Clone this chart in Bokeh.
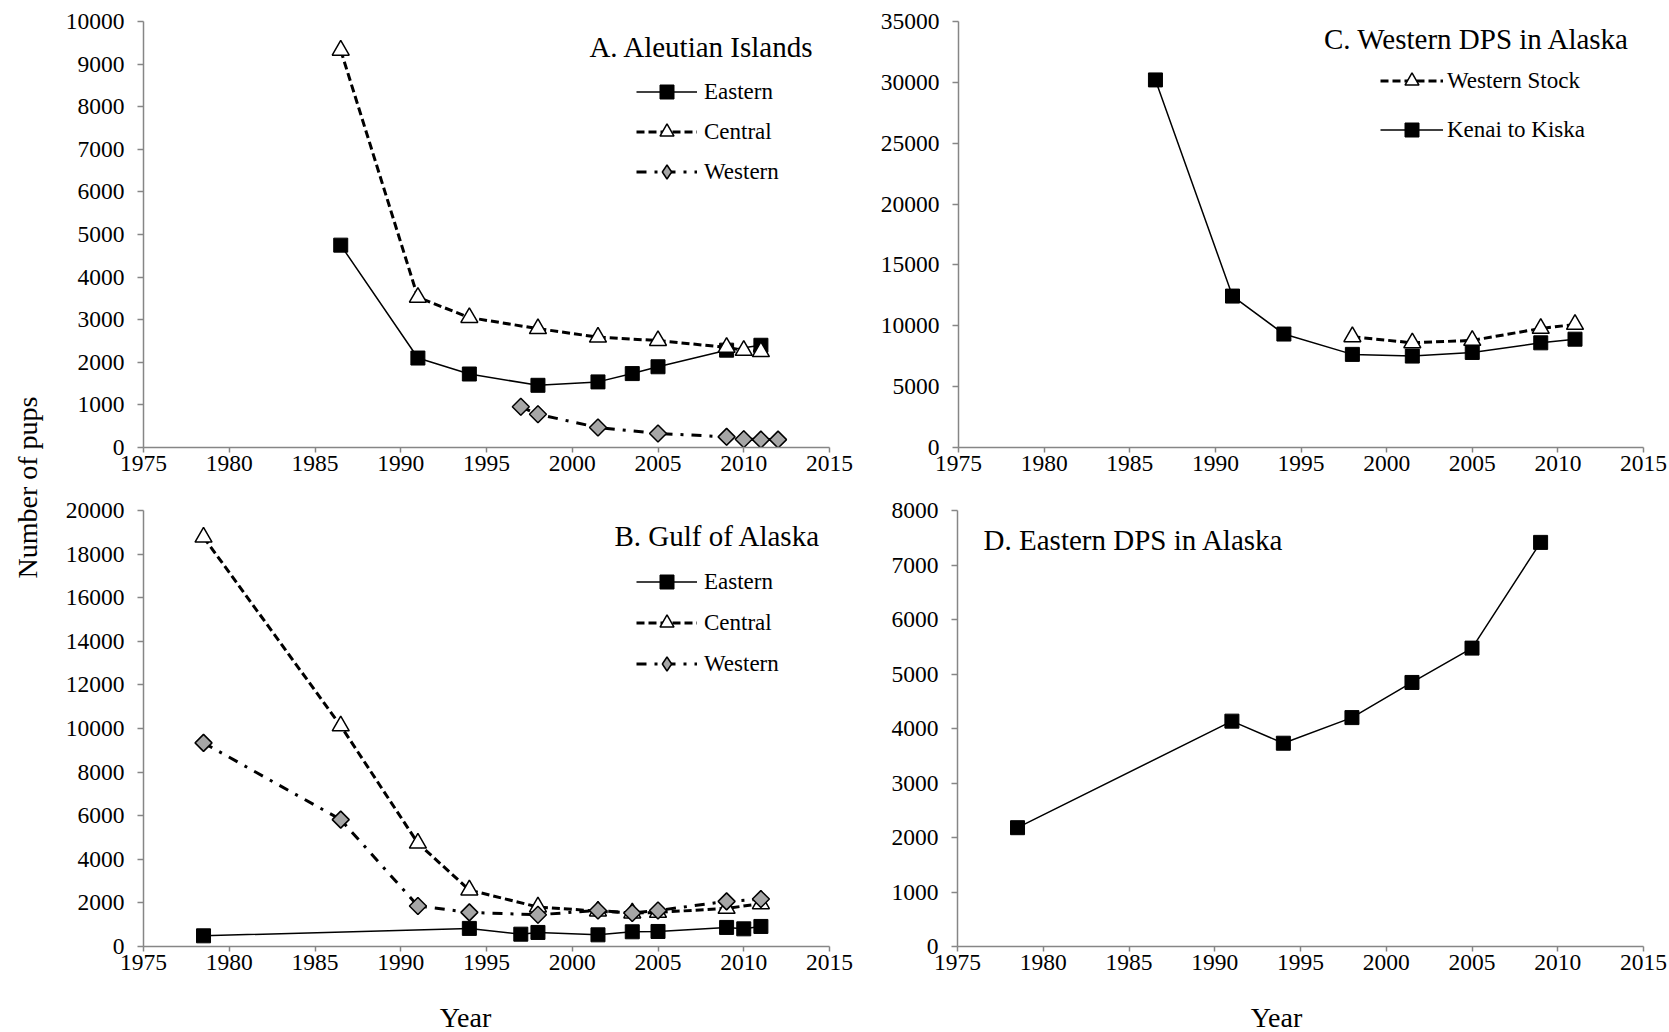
import numpy as np
from bokeh.plotting import figure
from bokeh.models import Range1d, FixedTicker, Legend, LegendItem, Label, BasicTickFormatter
from bokeh.layouts import row, column
from bokeh.embed import file_html
from bokeh.resources import INLINE

# ---------------- data ----------------
x_ticks = [1975, 1980, 1985, 1990, 1995, 2000, 2005, 2010, 2015]

# A. Aleutian Islands
a_east_years = [1986.5, 1991, 1994, 1998, 2001.5, 2003.5, 2005, 2009, 2011]
a_east = [4750, 2100, 1725, 1460, 1540, 1735, 1895, 2285, 2400]
a_cent_years = [1986.5, 1991, 1994, 1998, 2001.5, 2005, 2009, 2010, 2011]
a_cent = [9325, 3525, 3050, 2790, 2590, 2510, 2350, 2280, 2250]
a_west_years = [1997, 1998, 2001.5, 2005, 2009, 2010, 2011, 2012]
a_west = [955, 780, 470, 330, 250, 195, 185, 185]
a_yticks = list(range(0, 10001, 1000))

# B. Gulf of Alaska
b_east_years = [1978.5, 1994, 1997, 1998, 2001.5, 2003.5, 2005, 2009, 2010, 2011]
b_east = [490, 830, 565, 645, 535, 675, 690, 875, 810, 920]
b_cent_years = [1978.5, 1986.5, 1991, 1994, 1998, 2001.5, 2003.5, 2005, 2009, 2011]
b_cent = [18780, 10120, 4740, 2590, 1810, 1625, 1535, 1565, 1750, 1960]
b_west_years = [1978.5, 1986.5, 1991, 1994, 1998, 2001.5, 2003.5, 2005, 2009, 2011]
b_west = [9340, 5820, 1860, 1565, 1455, 1655, 1535, 1655, 2070, 2175]
b_yticks = list(range(0, 20001, 2000))

# C. Western DPS in Alaska
c_west_years = [1998, 2001.5, 2005, 2009, 2011]
c_west = [9100, 8600, 8800, 9780, 10110]
c_kk_years = [1986.5, 1991, 1994, 1998, 2001.5, 2005, 2009, 2011]
c_kk = [30200, 12440, 9320, 7650, 7510, 7810, 8600, 8900]
c_yticks = list(range(0, 35001, 5000))

# D. Eastern DPS in Alaska
d_years = [1978.5, 1991, 1994, 1998, 2001.5, 2005, 2009]
d_east = [2180, 4135, 3730, 4200, 4845, 5475, 7415]
d_yticks = list(range(0, 8001, 1000))

# ---------------- style ----------------
FONT = "Liberation Serif"
GRAY = "#868686"
DIAMOND_FILL = "#A6A6A6"


def panel(width, height, yr, yticks, left, right, top, bottom):
    p = figure(width=width, height=height, x_range=Range1d(1975, 2015), y_range=Range1d(*yr),
               output_backend="svg", toolbar_location=None,
               min_border_left=left, min_border_right=right,
               min_border_top=top, min_border_bottom=bottom)
    p.xgrid.visible = False
    p.ygrid.visible = False
    p.outline_line_color = None
    p.xaxis.ticker = FixedTicker(ticks=x_ticks)
    p.yaxis.ticker = FixedTicker(ticks=yticks)
    p.yaxis.formatter = BasicTickFormatter(use_scientific=False)
    for ax in p.axis:
        ax.axis_line_color = GRAY
        ax.axis_line_width = 1.5
        ax.major_tick_line_color = GRAY
        ax.major_tick_line_width = 1.5
        ax.major_tick_in = 0
        ax.minor_tick_line_color = None
        ax.major_label_text_font = FONT
        ax.major_label_text_font_size = "23.5px"
        ax.major_label_text_color = "black"
    p.xaxis.major_tick_out = 5
    p.xaxis.major_label_standoff = 3
    p.yaxis.major_tick_out = 6
    p.yaxis.major_label_standoff = 13
    return p


def blank(width, height):
    f = figure(width=width, height=height, x_range=Range1d(0, width), y_range=Range1d(0, height),
               output_backend="svg", toolbar_location=None, min_border=0,
               x_axis_location=None, y_axis_location=None)
    f.xgrid.visible = False
    f.ygrid.visible = False
    f.outline_line_color = None
    return f


def east_series(p, xs, ys):
    l = p.line(xs, ys, line_color="black", line_width=1.5)
    s = p.scatter(xs, ys, marker="square", size=14, fill_color="black", line_color="black")
    return [l, s]


def cent_series(p, xs, ys):
    l = p.line(xs, ys, line_color="black", line_width=3, line_dash="8 4")
    s = p.scatter(xs, ys, marker="triangle", size=17, fill_color="white", line_color="black",
                  line_width=1.5)
    return [l, s]


def west_series(p, xs, ys):
    l = p.line(xs, ys, line_color="black", line_width=3, line_dash="10 8 3 8")
    # diamond glyph hidden beneath the rotated squares; it gives the legend its diamond symbol
    d = p.scatter(xs, ys, marker="diamond", size=16, fill_color=DIAMOND_FILL,
                  line_color="black", line_width=1.5)
    p.scatter(xs, ys, marker="square", angle=np.pi / 4, size=12, fill_color=DIAMOND_FILL,
              line_color="black", line_width=1.5)
    return [l, d]


def add_legend(p, items, loc, glyph_width, spacing, standoff):
    lg = Legend(items=[LegendItem(label=t, renderers=r) for t, r in items], location=loc,
                orientation="vertical", glyph_width=glyph_width, glyph_height=35, label_height=35,
                spacing=spacing, padding=0, margin=0, label_standoff=standoff,
                border_line_color=None, background_fill_alpha=0,
                label_text_font=FONT, label_text_font_size="23px", label_text_color="black")
    p.add_layout(lg)


def add_text(p, x, y, text, size="29px", align="left", angle=0.0):
    p.add_layout(Label(x=x, y=y, text=text, text_align=align, text_baseline="middle",
                       angle=angle, text_font=FONT, text_font_size=size, text_color="black"))


# ---------------- panels ----------------
pa = panel(827, 483, (0, 10000), a_yticks, 93, 48, 21, 36)
ra_e = east_series(pa, a_east_years, a_east)
ra_c = cent_series(pa, a_cent_years, a_cent)
ra_w = west_series(pa, a_west_years, a_west)
add_legend(pa, [("Eastern", ra_e), ("Central", ra_c), ("Western", ra_w)], (493, 258), 61, 5, 7)
add_text(pa, 2001.0, 9413, "A. Aleutian Islands")

pb = panel(827, 499, (0, 20000), b_yticks, 93, 48, 27, 36)
rb_e = east_series(pb, b_east_years, b_east)
rb_c = cent_series(pb, b_cent_years, b_cent)
rb_w = west_series(pb, b_west_years, b_west)
add_legend(pb, [("Eastern", rb_e), ("Central", rb_c), ("Western", rb_w)], (493, 265), 61, 6, 7)
add_text(pb, 2002.46, 18853, "B. Gulf of Alaska")

pc = panel(790, 483, (0, 35000), c_yticks, 80, 24, 21, 36)
rc_w = cent_series(pc, c_west_years, c_west)
rc_k = east_series(pc, c_kk_years, c_kk)
add_legend(pc, [("Western Stock", rc_w), ("Kenai to Kiska", rc_k)], (422, 300), 63, 14, 4)
add_text(pc, 1996.34, 33603, "C. Western DPS in Alaska")

pd_ = panel(790, 499, (0, 8000), d_yticks, 80, 24, 27, 36)
east_series(pd_, d_years, d_east)
add_text(pd_, 1976.52, 7450, "D. Eastern DPS in Alaska")

# x-axis titles ("Year") under the bottom panels
xl_left = blank(827, 50)
add_text(xl_left, 415, 15, "Year", size="28px", align="center")
xl_right = blank(790, 50)
add_text(xl_right, 399, 15, "Year", size="28px", align="center")

# shared y-axis label
yl = blank(50, 1032)
add_text(yl, 27, 1032 - 487, "Number of pups", size="28px", align="center", angle=np.pi / 2)

layout = row(yl, column(row(pa, pc), row(pb, pd_), row(xl_left, xl_right)))

open("out.html", "w").write(file_html(layout, INLINE))
